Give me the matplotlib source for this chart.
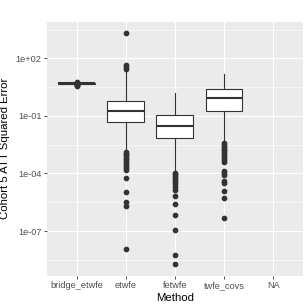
import matplotlib
matplotlib.use("Agg")
import matplotlib.pyplot as plt
from matplotlib.ticker import FixedLocator, NullFormatter

# box statistics (values on the original scale)
methods = ["bridge_etwfe", "etwfe", "fetwfe", "twfe_covs", "NA"]
medians = [5.0, 0.186, 0.031, 0.83]
q1s = [4.85, 0.048, 0.0071, 0.18]
q3s = [5.15, 0.575, 0.107, 2.45]
whisk_lo = [4.7, 1.5e-3, 1.26e-4, 4.6e-3]
whisk_hi = [5.3, 22.0, 1.55, 15.0]
outliers = [
    [5.9, 4.3, 4.1, 3.9, 3.7],
    [2000.0, 45.0, 35.0, 28.0,
     1.26e-3, 1.05e-3, 8.7e-4, 7.2e-4, 6.0e-4, 5.0e-4, 4.0e-4, 3.2e-4,
     2.5e-4, 2.0e-4, 1.6e-4, 5.6e-5, 1.05e-5, 3.2e-6, 2.1e-6, 1.2e-8],
    [1.12e-4, 8.9e-5, 7.1e-5, 5.6e-5, 4.5e-5, 3.5e-5, 2.8e-5, 2.0e-5,
     1.4e-5, 6.9e-6, 2.5e-6, 6.6e-7, 1.15e-7, 5.5e-9, 1.9e-9],
    [4.0e-3, 3.2e-3, 2.5e-3, 2.0e-3, 1.6e-3, 1.26e-3, 1.0e-3, 7.9e-4,
     6.3e-4, 5.0e-4, 4.2e-4, 1.4e-4, 1.12e-4, 7.9e-5, 4.0e-5, 3.2e-5,
     1.23e-5, 5.1e-6, 4.5e-7],
]
y_ticks = [1e2, 1e-1, 1e-4, 1e-7]
y_ticklabels = ["1e+02", "1e-01", "1e-04", "1e-07"]
y_minor = [10 ** 3.5, 10 ** 0.5, 10 ** -2.5, 10 ** -5.5, 10 ** -8.5]

plt.rcParams["font.family"] = ["Liberation Sans", "DejaVu Sans"]

fig = plt.figure(figsize=(3.07, 3.07), dpi=100)
ax = fig.add_axes([47 / 307, 1 - 275.7 / 307, 255.7 / 307, 253.7 / 307])
ax.set_facecolor("#EBEBEB")
for side in ax.spines.values():
    side.set_visible(False)

stats = []
for i in range(len(medians)):
    stats.append({
        "med": medians[i], "q1": q1s[i], "q3": q3s[i],
        "whislo": whisk_lo[i], "whishi": whisk_hi[i], "fliers": outliers[i],
    })

edge = "#333333"
ax.bxp(
    stats, positions=range(1, len(medians) + 1), widths=0.75, patch_artist=True,
    showcaps=False, zorder=3,
    boxprops=dict(facecolor="white", edgecolor=edge, linewidth=0.8),
    whiskerprops=dict(color=edge, linewidth=0.8),
    medianprops=dict(color=edge, linewidth=1.5),
    flierprops=dict(marker="o", markerfacecolor=edge, markeredgecolor=edge,
                    markersize=3.1, linestyle="none"),
)

ax.set_yscale("log")
ax.set_ylim(10 ** -9.33, 10 ** 3.9)
ax.set_xlim(0.4, len(methods) + 0.6)
ax.yaxis.set_major_locator(FixedLocator(y_ticks))
ax.yaxis.set_minor_locator(FixedLocator(y_minor))
ax.yaxis.set_minor_formatter(NullFormatter())
ax.set_yticklabels(y_ticklabels)
ax.set_xticks(range(1, len(methods) + 1))
ax.set_xticklabels(methods)

ax.grid(which="major", color="white", linewidth=0.8, zorder=0)
ax.grid(which="minor", axis="y", color="white", linewidth=0.4, zorder=0)
ax.set_axisbelow(True)

ax.tick_params(axis="both", which="major", length=2.5, width=0.6, color="#333333",
               labelsize=6.6, labelcolor="#4D4D4D", pad=1.5)
ax.tick_params(axis="y", which="minor", length=0)

ax.set_xlabel("Method", fontsize=8.2, color="black", labelpad=2)
ax.set_ylabel("Cohort 5 ATT Squared Error", fontsize=8.2, color="black", labelpad=4)

fig.savefig("out.png", dpi=100)
